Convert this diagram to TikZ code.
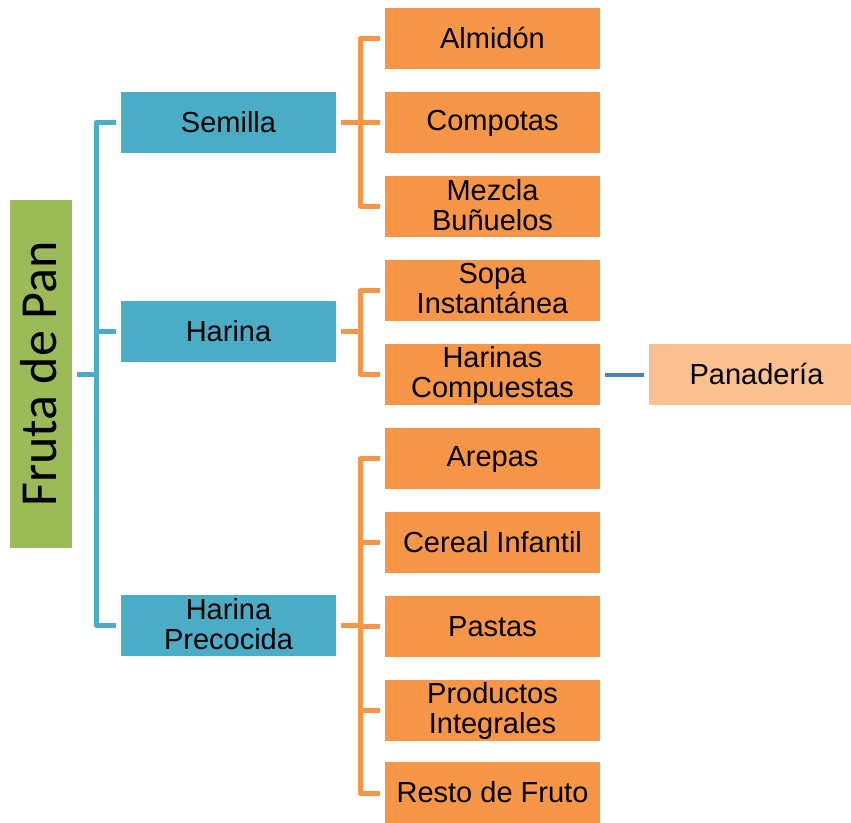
\documentclass[tikz,border=0pt]{standalone}
\usepackage{fontspec}
\setmainfont{Liberation Sans}
\newfontfamily\rootfont{Carlito}
\definecolor{tealfill}{HTML}{4BACC6}
\definecolor{orangefill}{HTML}{F79646}
\definecolor{peachfill}{HTML}{FAC090}
\definecolor{greenfill}{HTML}{9BBB59}
\definecolor{blueline}{HTML}{4F81BD}
% strut that keeps every label line at the same height
\newcommand\labelstrut{\vrule width 0pt height 23pt depth 4pt\relax}
\begin{document}
\begin{tikzpicture}[x=1pt,y=-1pt,
  boxbase/.style={draw=none, minimum width=215pt, minimum height=61.5pt, inner sep=0pt,
    align=center, text=black, font=\fontsize{29}{30}\selectfont,
    execute at begin node=\labelstrut, execute at end node=\labelstrut},
  catbox/.style={boxbase, fill=tealfill},
  prodbox/.style={boxbase, fill=orangefill},
  usebox/.style={boxbase, fill=peachfill},
  rootbox/.style={draw=none, fill=greenfill, minimum width=62pt, minimum height=348pt, inner sep=0pt},
  tline/.style={draw=tealfill, line width=5pt, line join=round},
  oline/.style={draw=orangefill, line width=5pt, line join=round},
  bline/.style={draw=blueline, line width=4pt}]
\useasboundingbox (0,0) rectangle (851,822);
\clip (0,0) rectangle (851,822);

% root
\node[rootbox] (root) at (41,374) {};
\node[rotate=90, font=\rootfont\fontsize{52}{52}\selectfont, inner sep=0pt] (roottext) at (39,374) {Fruta de Pan};

% categories
\node[catbox] (semilla)   at (228.5,122.5) {Semilla};
\node[catbox] (harina)    at (228.5,331.5) {Harina};
\node[catbox] (precocida) at (228.5,625.5) {Harina\\Precocida};

% products
\node[prodbox] (almidon)   at (492.5,38.5)  {Almidón};
\node[prodbox] (compotas)  at (492.5,122.5) {Compotas};
\node[prodbox] (mezcla)    at (492.5,206.5) {Mezcla\\Buñuelos};
\node[prodbox] (sopa)      at (492.5,290.5) {Sopa\\Instantánea};
\node[prodbox] (compuestas) at (492.5,374.5) {Harinas\\Compuestas};
\node[prodbox] (arepas)    at (492.5,458.5) {Arepas};
\node[prodbox] (cereal)    at (492.5,542.5) {Cereal Infantil};
\node[prodbox] (pastas)    at (492.5,626.5) {Pastas};
\node[prodbox] (integrales) at (492.5,710.5) {Productos\\Integrales};
\node[prodbox] (resto)     at (492.5,793)   {Resto de Fruto};

% use
\node[usebox] (panaderia) at (756.5,374.5) {Panadería};

% teal bracket from the root
\coordinate (tbar) at (96.5,0);
\draw[tline] ([xshift=-5pt]semilla.west) -| (tbar |- precocida.west) -- ([xshift=-5pt]precocida.west);
\draw[tline] ([xshift=5pt]root.east) -- (tbar |- root.east);
\draw[tline] (tbar |- harina.west) -- ([xshift=-5pt]harina.west);

% orange brackets
\coordinate (obar) at (360.5,0);
\draw[oline] ([xshift=-5pt]almidon.west) -| (obar |- mezcla.west) -- ([xshift=-5pt]mezcla.west);
\draw[oline] ([xshift=5pt]semilla.east) -- ([xshift=-5pt]compotas.west);

\draw[oline] ([xshift=-5pt]sopa.west) -| (obar |- compuestas.west) -- ([xshift=-5pt]compuestas.west);
\draw[oline] ([xshift=5pt]harina.east) -- (obar |- harina.east);

\draw[oline] ([xshift=-5pt]arepas.west) -| (obar |- resto.west) -- ([xshift=-5pt]resto.west);
\draw[oline] ([xshift=5pt]precocida.east) -- (obar |- precocida.east);
\foreach \n in {cereal,pastas,integrales}
  \draw[oline] (obar |- \n.west) -- ([xshift=-5pt]\n.west);

% link to the use
\draw[bline] ([xshift=5pt]compuestas.east) -- ([xshift=-5pt]panaderia.west);
\end{tikzpicture}
\end{document}
